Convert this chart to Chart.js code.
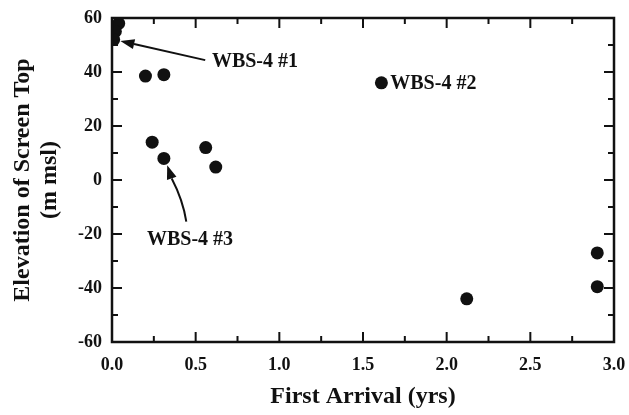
<!DOCTYPE html>
<html><head><meta charset="utf-8">
<script src="https://cdn.jsdelivr.net/npm/chart.js@4/dist/chart.umd.min.js"></script>
<style>html,body{margin:0;padding:0;background:#fff}#wrap{width:629px;height:415px}</style>
</head><body><div id="wrap"><canvas id="c" width="629" height="415"></canvas></div>
<script>
// ---- data ----
const arrivalYrs  = [0.04, 0.02, 0.01, 0.20, 0.31, 0.24, 0.31, 0.56, 0.62, 1.61, 2.12, 2.90, 2.90];
const elevationM  = [58,   55,   52,   38.5, 39,   14,   8,    12,   4.8,  36,   -44,  -27,  -39.5];
const xMajorTicks = [0, 0.5, 1, 1.5, 2, 2.5, 3];
const xMinorTicks = [0.25, 0.75, 1.25, 1.75, 2.25, 2.75];
const yMajorTicks = [-60, -40, -20, 0, 20, 40, 60];
const yMinorTicks = [-50, -30, -10, 10, 30, 50];
const noteText    = ['WBS-4 #1', 'WBS-4 #2', 'WBS-4 #3'];
const noteX       = [0.597, 1.663, 0.209];
const noteY       = [43.8, 35.8, -22.2];
const arrowFromX  = [0.557, null, 0.444];
const arrowFromY  = [44.4, null, -15.4];
const arrowToX    = [0.05, null, 0.33];
const arrowToY    = [51.5, null, 5.5];

const INK = '#111';
const tickFont  = {family: "'Liberation Serif', serif", size: 18, weight: 'bold'};
const titleFont = {family: "'Liberation Serif', serif", size: 24, weight: 'bold', lineHeight: 1.125};

const framePlugin = {
  id: 'frame',
  afterDraw(chart) {
    const {ctx, chartArea: a, scales: {x, y}} = chart;
    ctx.save();
    ctx.strokeStyle = INK; ctx.lineWidth = 2.5;
    ctx.strokeRect(a.left, a.top, a.right - a.left, a.bottom - a.top);
    ctx.lineWidth = 2;
    const tick = (px, len, vertical) => {
      ctx.beginPath();
      if (vertical) {
        ctx.moveTo(px, a.bottom); ctx.lineTo(px, a.bottom - len);
        ctx.moveTo(px, a.top); ctx.lineTo(px, a.top + len);
      } else {
        ctx.moveTo(a.left, px); ctx.lineTo(a.left + len, px);
        ctx.moveTo(a.right, px); ctx.lineTo(a.right - len, px);
      }
      ctx.stroke();
    };
    xMajorTicks.forEach(v => tick(x.getPixelForValue(v), 10, true));
    xMinorTicks.forEach(v => tick(x.getPixelForValue(v), 6, true));
    yMajorTicks.forEach(v => tick(y.getPixelForValue(v), 10, false));
    yMinorTicks.forEach(v => tick(y.getPixelForValue(v), 6, false));

    // annotations
    ctx.fillStyle = INK;
    ctx.font = "bold 20px 'Liberation Serif', serif";
    ctx.textBaseline = 'middle'; ctx.textAlign = 'left';
    noteText.forEach((t, i) => {
      ctx.fillText(t, x.getPixelForValue(noteX[i]), y.getPixelForValue(noteY[i]));
      if (arrowFromX[i] === null) return;
      const x0 = x.getPixelForValue(arrowFromX[i]), y0 = y.getPixelForValue(arrowFromY[i]);
      const x1 = x.getPixelForValue(arrowToX[i]), y1 = y.getPixelForValue(arrowToY[i]);
      const ang = Math.atan2(y1 - y0, x1 - x0);
      const hl = 14, hw = 5;
      const bx = x1 - hl * Math.cos(ang), by = y1 - hl * Math.sin(ang);
      ctx.lineWidth = 2;
      ctx.beginPath();
      ctx.moveTo(x0, y0);
      const mx = (x0 + bx) / 2 + (i === 2 ? 4 : 0), my = (y0 + by) / 2;
      ctx.quadraticCurveTo(mx, my, bx, by);
      ctx.stroke();
      ctx.beginPath();
      ctx.moveTo(x1, y1);
      ctx.lineTo(bx + hw * Math.sin(ang), by - hw * Math.cos(ang));
      ctx.lineTo(bx - hw * Math.sin(ang), by + hw * Math.cos(ang));
      ctx.closePath(); ctx.fill();
    });
    ctx.restore();
  }
};

new Chart(document.getElementById('c'), {
  type: 'scatter',
  data: {
    datasets: [{
      data: arrivalYrs.map((v, i) => ({x: v, y: elevationM[i]})),
      backgroundColor: INK, borderColor: INK, pointRadius: 6.5, borderWidth: 0
    }]
  },
  options: {
    responsive: false, animation: false, devicePixelRatio: 1,
    layout: {padding: {left: 0, right: 15, top: 18, bottom: 0}},
    plugins: {legend: {display: false}, tooltip: {enabled: false}},
    scales: {
      x: {
        type: 'linear', min: 0, max: 3,
        afterBuildTicks: s => { s.ticks = xMajorTicks.map(v => ({value: v})); },
        ticks: {callback: v => v.toFixed(1), font: tickFont, color: INK, padding: 13, maxRotation: 0, autoSkip: false},
        grid: {display: false, drawTicks: false}, border: {display: false},
        title: {display: true, text: 'First Arrival (yrs)', font: titleFont, color: INK, padding: {top: 0, bottom: 4.5}},
        afterFit: s => { s.height = 73; s.paddingLeft = 0; s.paddingRight = 0; }
      },
      y: {
        type: 'linear', min: -60, max: 60,
        afterBuildTicks: s => { s.ticks = yMajorTicks.map(v => ({value: v})); },
        ticks: {callback: v => String(v), font: tickFont, color: INK, padding: 10, autoSkip: false},
        grid: {display: false, drawTicks: false}, border: {display: false},
        title: {display: true, text: ['Elevation of Screen Top', '(m msl)'], font: titleFont, color: INK, padding: {top: 9.5, bottom: 0}},
        afterFit: s => { s.width = 112; s.paddingTop = 0; s.paddingBottom = 0; }
      }
    }
  },
  plugins: [framePlugin]
});
</script>
</body></html>
